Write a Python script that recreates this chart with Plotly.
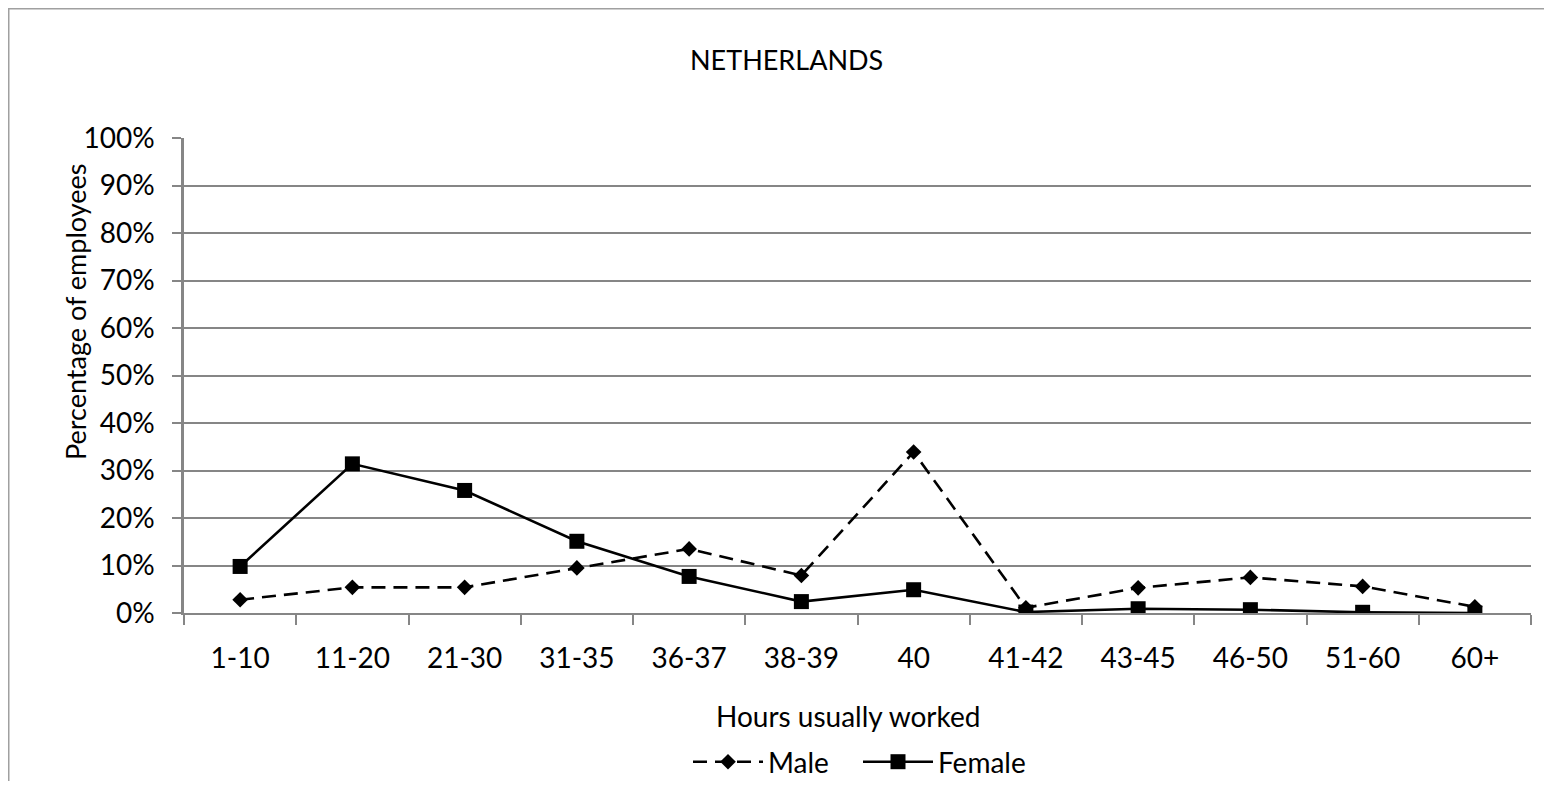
import plotly.graph_objects as go

categories = ["1-10", "11-20", "21-30", "31-35", "36-37", "38-39", "40",
              "41-42", "43-45", "46-50", "51-60", "60+"]
male = [2.8, 5.4, 5.4, 9.5, 13.5, 7.9, 33.9, 1.1, 5.3, 7.5, 5.6, 1.3]
female = [9.8, 31.4, 25.8, 15.1, 7.7, 2.4, 4.9, 0.2, 0.9, 0.7, 0.15, 0.0]
y_ticks = [0, 10, 20, 30, 40, 50, 60, 70, 80, 90, 100]
y_labels = [f"{v}%" for v in y_ticks]

OFF = 8  # page body margin
W, H = 1552 - 2 * OFF, 789 - 2 * OFF
L = 184 - OFF
T = 138 - OFF
R = W - (1531 - OFF)
B = H - (613 - OFF)
pw = W - L - R
ph = H - T - B

def px_x(x):
    return (x - OFF - L) / pw

def px_y(y):
    return (H - B - (y - OFF)) / ph

FONT = "Lato"
FS = 28
grid = "#868686"

fig = go.Figure()
fig.add_trace(go.Scatter(
    x=categories, y=male, name="Male", mode="lines+markers",
    line=dict(color="black", width=2.6, dash="14px,8px"),
    marker=dict(symbol="diamond", size=12, color="black"),
))
fig.add_trace(go.Scatter(
    x=categories, y=female, name="Female", mode="lines+markers",
    line=dict(color="black", width=2.6),
    marker=dict(symbol="square", size=15, color="black"),
))

fig.update_layout(
    width=W, height=H,
    margin=dict(l=L, r=R, t=T, b=B, pad=0, autoexpand=False),
    paper_bgcolor="white", plot_bgcolor="white",
    font=dict(family=FONT, size=FS, color="black"),
    showlegend=True,
    legend=dict(orientation="h", x=px_x(688), xanchor="left",
                y=px_y(762), yanchor="middle", font=dict(size=FS),
                itemwidth=70, entrywidth=85, entrywidthmode="pixels",
                bgcolor="rgba(0,0,0,0)", traceorder="normal"),
    xaxis=dict(
        type="category", range=[-0.5, len(categories) - 0.5],
        showgrid=False, showline=True, linecolor=grid, linewidth=2,
        ticks="outside", tickson="boundaries", ticklen=10, tickwidth=2,
        tickcolor=grid, ticklabelstandoff=19, zeroline=False,
        tickfont=dict(size=FS, family=FONT),
    ),
    yaxis=dict(
        range=[0, 100], tickmode="array", tickvals=y_ticks, ticktext=y_labels,
        showgrid=True, gridcolor=grid, gridwidth=2,
        showline=True, linecolor=grid, linewidth=2.5,
        ticks="outside", ticklen=9, tickwidth=2, tickcolor=grid,
        ticklabelstandoff=12, zeroline=False,
        tickfont=dict(size=FS, family=FONT),
    ),
    annotations=[
        dict(text="NETHERLANDS", x=px_x(786), y=px_y(60), xref="paper", yref="paper",
             xanchor="center", yanchor="middle", showarrow=False,
             font=dict(size=FS - 1, family=FONT)),
        dict(text="Percentage of employees", x=px_x(75), y=px_y(312), xref="paper", yref="paper",
             xanchor="center", yanchor="middle", textangle=-90, showarrow=False,
             font=dict(size=FS - 1, family=FONT)),
        dict(text="Hours usually worked", x=px_x(848), y=px_y(716), xref="paper", yref="paper",
             xanchor="center", yanchor="middle", showarrow=False,
             font=dict(size=FS, family=FONT)),
    ],
    shapes=[
        dict(type="line", xref="paper", yref="paper", x0=px_x(8), x1=px_x(1600),
             y0=px_y(8.75), y1=px_y(8.75), line=dict(color="#a0a0a0", width=1.5)),
        dict(type="line", xref="paper", yref="paper", x0=px_x(8.75), x1=px_x(8.75),
             y0=px_y(8), y1=px_y(900), line=dict(color="#a0a0a0", width=1.5)),
    ],
)

fig.write_html("out.html")
